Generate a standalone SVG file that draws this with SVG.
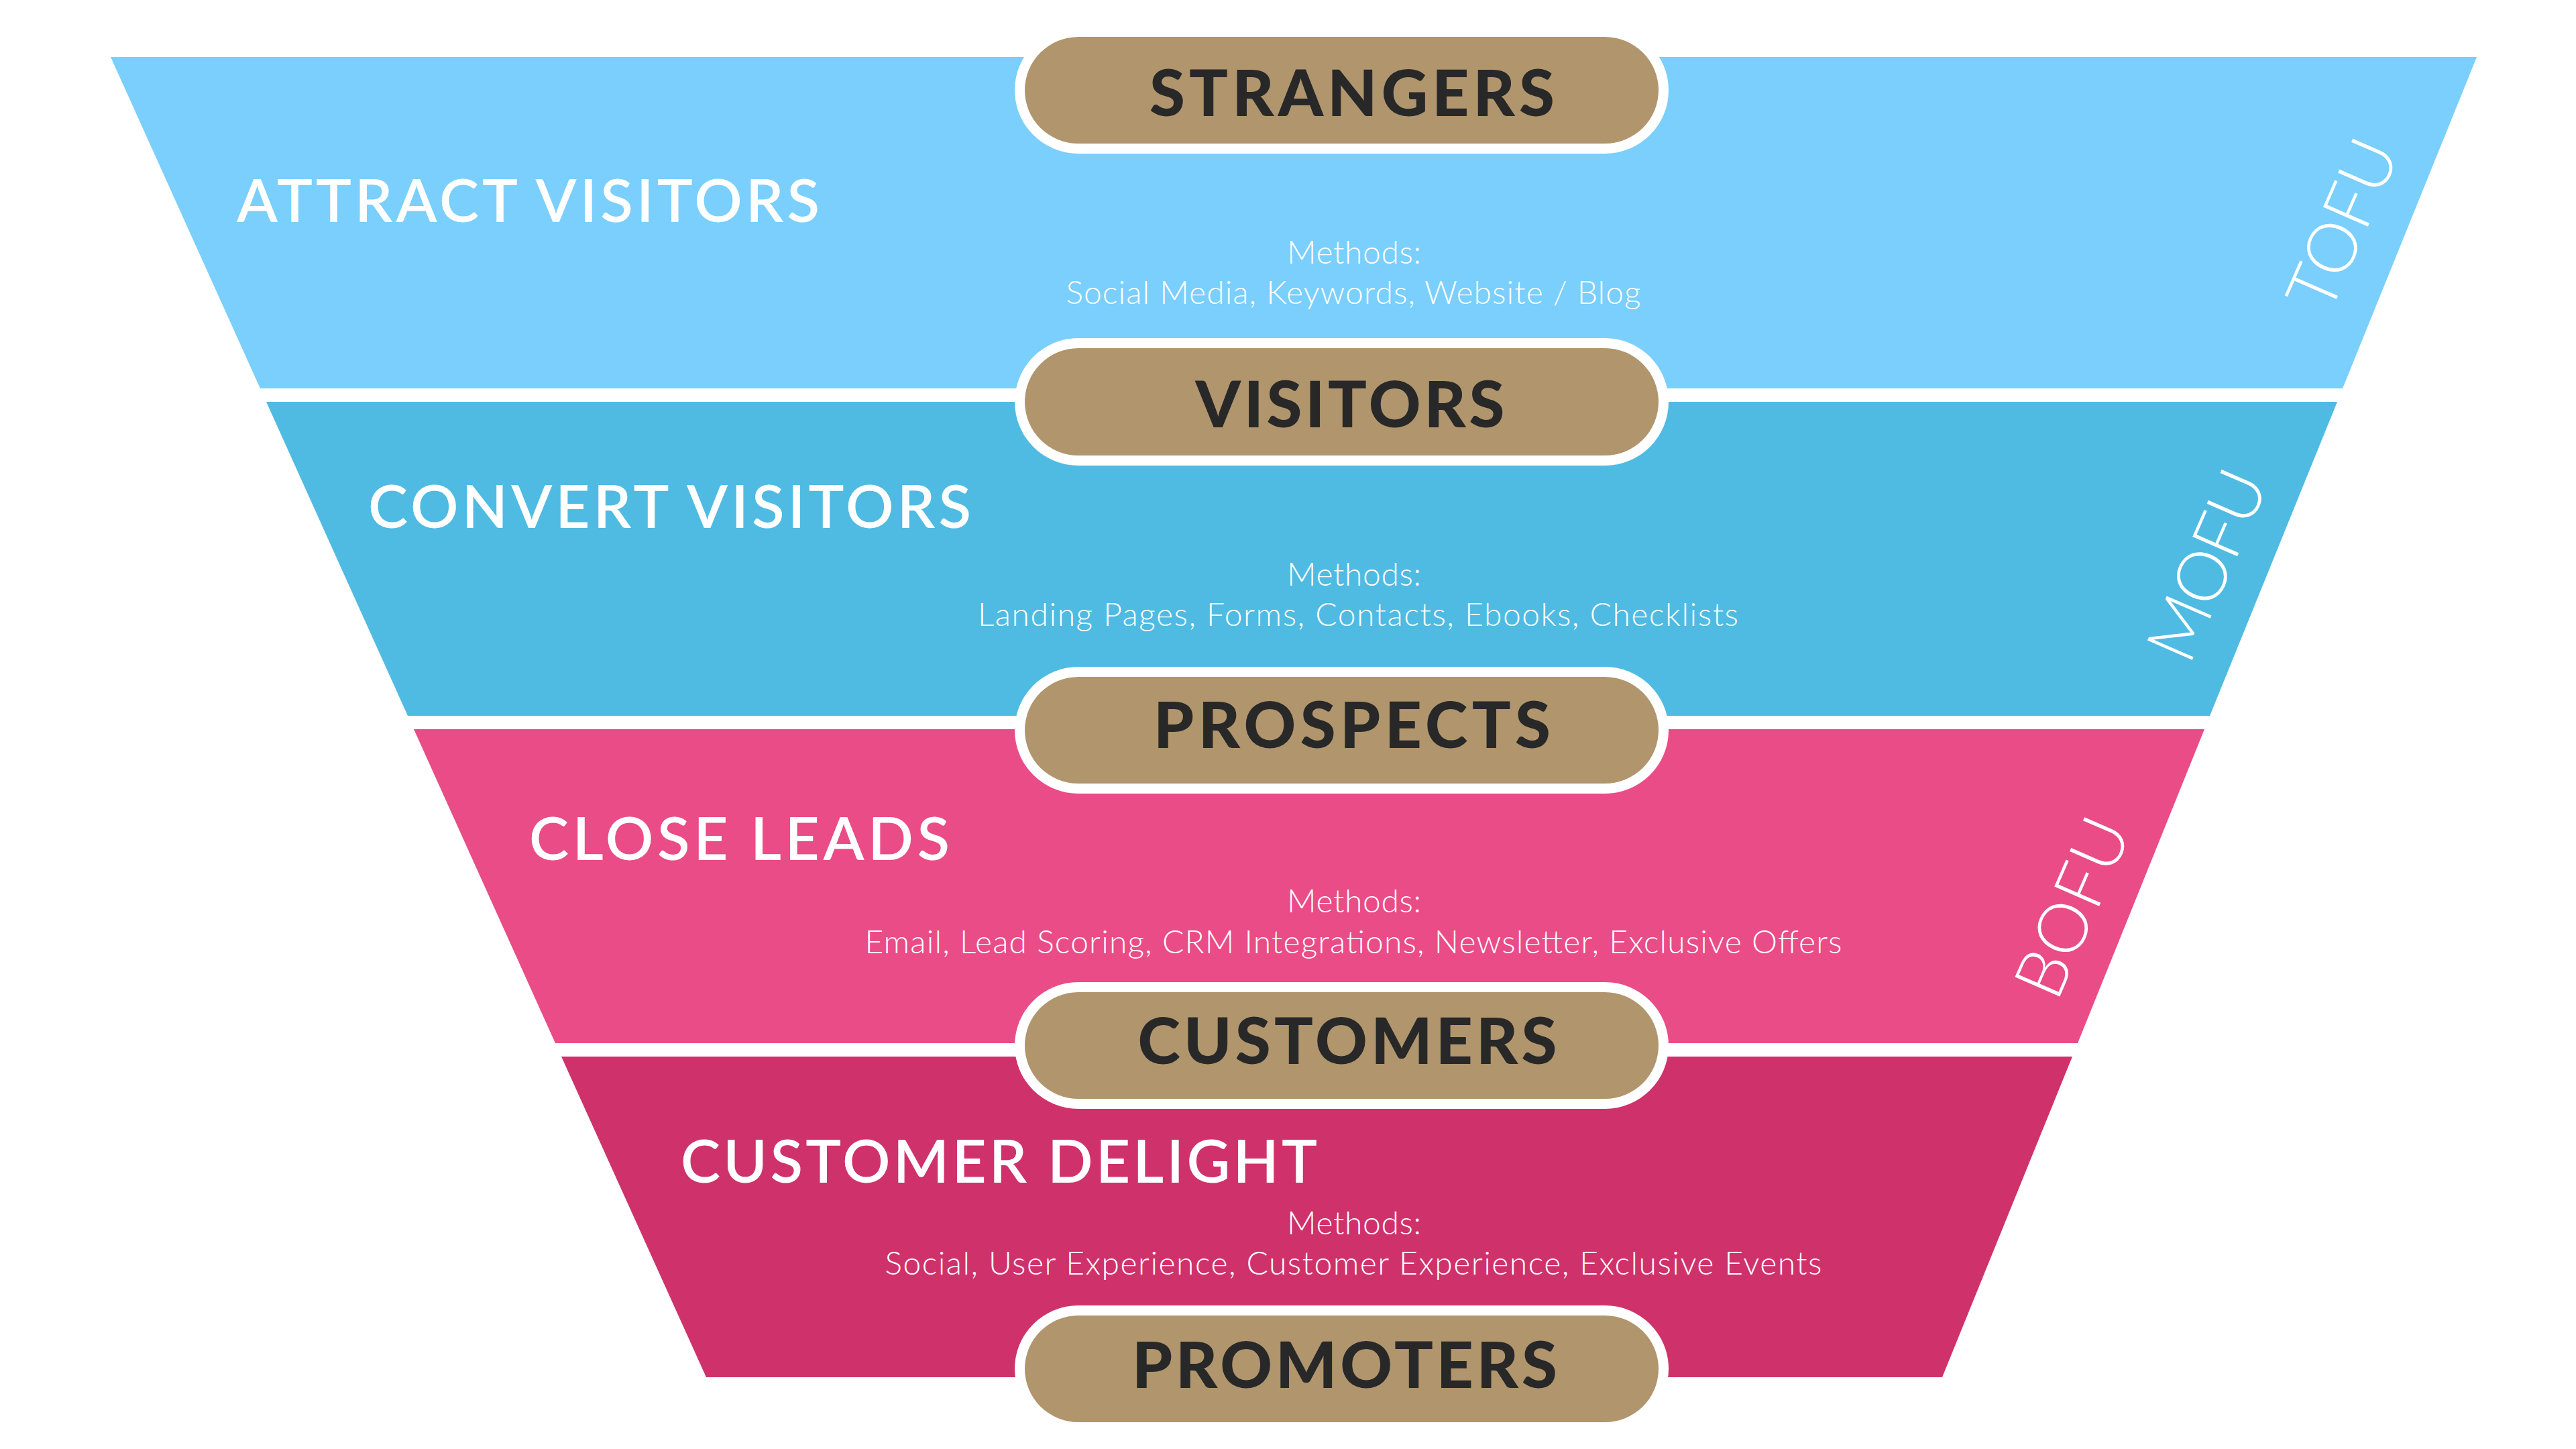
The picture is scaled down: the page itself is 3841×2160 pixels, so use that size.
<svg xmlns="http://www.w3.org/2000/svg" width="3841" height="2160" viewBox="0 0 3841 2160">
<style>
.title{font-family:Lato,"Open Sans","Liberation Sans",sans-serif;font-weight:600;font-size:89px;fill:#ffffff}
.m{font-family:Lato,"Open Sans","Liberation Sans",sans-serif;font-weight:300;font-size:48px;fill:#ffffff;text-anchor:middle}
.stage{font-family:Lato,"Open Sans","Liberation Sans",sans-serif;font-weight:300;font-size:103px;fill:#ffffff;text-anchor:middle}
.pillout{fill:#ffffff}
.pillin{fill:#B0956D}
.pilltxt{font-family:Lato,"Open Sans","Liberation Sans",sans-serif;font-weight:900;font-size:96px;fill:#282828;text-anchor:middle}
</style>
<rect width="3841" height="2160" fill="#ffffff"/>
<g id="band-tofu">
<polygon points="165,85 3693,85 3493,579 388,579" fill="#7ACFFC"/>
<text class="title" x="353" y="331" textLength="869" lengthAdjust="spacing">ATTRACT VISITORS</text>
<text class="m" x="2019" y="393" textLength="200" lengthAdjust="spacing">Methods:</text>
<text class="m" x="2018" y="453" textLength="857" lengthAdjust="spacing">Social Media, Keywords, Website / Blog</text>
<text class="stage" transform="translate(3492,334) rotate(-66.5)" x="0" y="37" textLength="266" lengthAdjust="spacing">TOFU</text>
</g>
<g id="band-mofu">
<polygon points="397,599 3485,599 3295,1067 608,1067" fill="#4FBBE2"/>
<text class="title" x="549" y="787" textLength="899" lengthAdjust="spacing">CONVERT VISITORS</text>
<text class="m" x="2019" y="873" textLength="200" lengthAdjust="spacing">Methods:</text>
<text class="m" x="2025" y="933" textLength="1134" lengthAdjust="spacing">Landing Pages, Forms, Contacts, Ebooks, Checklists</text>
<text class="stage" transform="translate(3290,842) rotate(-66.5)" x="0" y="37" textLength="298" lengthAdjust="spacing">MOFU</text>
</g>
<g id="band-bofu">
<polygon points="617,1087 3287,1087 3098,1555 828,1555" fill="#E94C87"/>
<text class="title" x="789" y="1282" textLength="627" lengthAdjust="spacing">CLOSE LEADS</text>
<text class="m" x="2019" y="1360" textLength="200" lengthAdjust="spacing">Methods:</text>
<text class="m" x="2018" y="1421" textLength="1457" lengthAdjust="spacing">Email, Lead Scoring, CRM Integrations, Newsletter, Exclusive Offers</text>
<text class="stage" transform="translate(3089,1352) rotate(-66.5)" x="0" y="37" textLength="280" lengthAdjust="spacing">BOFU</text>
</g>
<g id="band-delight">
<polygon points="837,1575 3090,1575 2896,2053 1053,2053" fill="#CF326B"/>
<text class="title" x="1015" y="1763" textLength="949" lengthAdjust="spacing">CUSTOMER DELIGHT</text>
<text class="m" x="2019" y="1840" textLength="200" lengthAdjust="spacing">Methods:</text>
<text class="m" x="2018" y="1900" textLength="1397" lengthAdjust="spacing">Social, User Experience, Customer Experience, Exclusive Events</text>
</g>
<g id="connectors"/>
<g id="pill-strangers">
<rect class="pillout" x="1513" y="40" width="975" height="189" rx="95"/>
<rect class="pillin" x="1528" y="55" width="945" height="159" rx="80"/>
<text class="pilltxt" x="2016" y="173" textLength="604" lengthAdjust="spacing">STRANGERS</text>
</g>
<g id="pill-visitors">
<rect class="pillout" x="1513" y="504" width="975" height="190" rx="95"/>
<rect class="pillin" x="1528" y="519" width="945" height="160" rx="80"/>
<text class="pilltxt" x="2013" y="637" textLength="461" lengthAdjust="spacing">VISITORS</text>
</g>
<g id="pill-prospects">
<rect class="pillout" x="1513" y="994" width="975" height="189" rx="95"/>
<rect class="pillin" x="1528" y="1009" width="945" height="159" rx="80"/>
<text class="pilltxt" x="2016" y="1115" textLength="592" lengthAdjust="spacing">PROSPECTS</text>
</g>
<g id="pill-customers">
<rect class="pillout" x="1513" y="1464" width="975" height="189" rx="95"/>
<rect class="pillin" x="1528" y="1479" width="945" height="159" rx="80"/>
<text class="pilltxt" x="2009" y="1586" textLength="625" lengthAdjust="spacing">CUSTOMERS</text>
</g>
<g id="pill-promoters">
<rect class="pillout" x="1513" y="1946" width="975" height="189" rx="95"/>
<rect class="pillin" x="1528" y="1961" width="945" height="159" rx="80"/>
<text class="pilltxt" x="2005" y="2069" textLength="634" lengthAdjust="spacing">PROMOTERS</text>
</g>
</svg>
